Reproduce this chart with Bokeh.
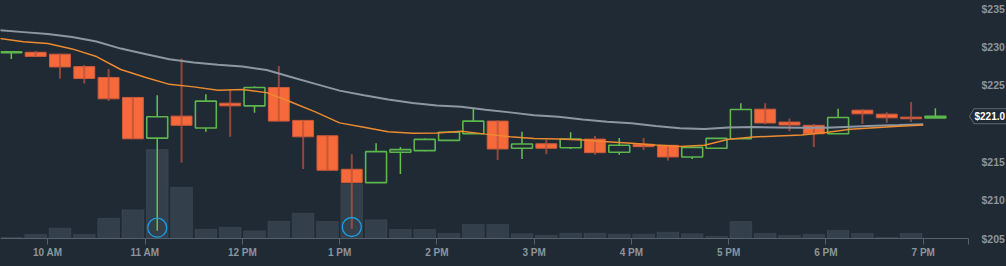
from bokeh.plotting import figure
from bokeh.models import Range1d, FixedTicker, NumeralTickFormatter, ColumnDataSource, PolyAnnotation, Label
from bokeh.embed import file_html
from bokeh.resources import INLINE

# ---------------- data ----------------
times = ["09:30", "09:45", "10:00", "10:15", "10:30", "10:45", "11:00", "11:15", "11:30", "11:45",
         "12:00", "12:15", "12:30", "12:45", "13:00", "13:15", "13:30", "13:45", "14:00", "14:15",
         "14:30", "14:45", "15:00", "15:15", "15:30", "15:45", "16:00", "16:15", "16:30", "16:45",
         "17:00", "17:15", "17:30", "17:45", "18:00", "18:15", "18:30", "18:45", "19:00"]

opens = [229.27, 229.32, 229.07, 227.45, 226.03, 223.42, 218.11, 220.98, 219.43, 222.67,
         222.32, 224.72, 220.42, 218.41, 214.04, 212.30, 216.26, 216.47, 217.81, 218.67,
         220.33, 216.78, 217.37, 216.86, 217.98, 216.26, 217.30, 217.17, 215.65, 216.78,
         218.02, 221.89, 220.20, 219.78, 218.67, 221.76, 221.24, 220.85, 220.75]
highs = [229.42, 229.47, 229.12, 227.65, 227.14, 223.44, 223.72, 228.52, 223.85, 224.46,
         224.89, 227.53, 220.42, 218.50, 216.00, 217.43, 216.95, 218.07, 219.00, 221.93,
         220.42, 218.95, 217.85, 218.87, 218.37, 218.11, 218.11, 217.20, 217.00, 218.10,
         222.67, 222.67, 220.68, 219.95, 221.93, 221.89, 221.50, 222.83, 222.02]
lows = [228.45, 228.75, 225.88, 225.24, 222.96, 218.00, 206.02, 214.91, 218.95, 218.28,
        221.41, 220.33, 214.08, 213.91, 206.27, 212.28, 213.43, 216.40, 217.80, 218.65,
        215.26, 215.39, 216.00, 216.69, 215.95, 215.95, 216.56, 215.17, 215.39, 216.70,
        218.00, 219.91, 219.00, 216.95, 218.65, 219.95, 220.11, 220.20, 220.75]
closes = [229.37, 228.78, 227.40, 225.89, 223.24, 218.02, 220.89, 219.78, 222.94, 222.32,
          224.72, 220.33, 218.28, 213.91, 212.30, 216.34, 216.60, 217.94, 218.87, 220.33,
          216.69, 217.34, 216.78, 217.98, 216.21, 217.17, 216.99, 215.65, 216.90, 218.07,
          221.85, 220.08, 219.82, 218.67, 220.81, 221.28, 220.76, 220.64, 220.97]
volumes = [10, 40, 103, 40, 203, 287, 890, 513, 93, 113,
           77, 173, 253, 170, 547, 187, 90, 90, 50, 140,
           140, 47, 33, 53, 53, 43, 43, 63, 47, 20,
           170, 50, 30, 40, 80, 50, 10, 50, 0]
ma_slow = [232.21, 231.95, 231.69, 231.30, 230.72, 229.80, 229.10, 228.40, 227.97, 227.68,
           227.46, 227.00, 226.10, 225.19, 224.31, 223.72, 223.14, 222.68, 222.38, 222.21,
           221.81, 221.47, 221.11, 220.89, 220.54, 220.26, 220.04, 219.70, 219.39, 219.29,
           219.51, 219.55, 219.51, 219.46, 219.46, 219.60, 219.72, 219.81, 219.91]
ma_fast = [231.12, 230.69, 230.46, 229.76, 228.76, 227.07, 226.06, 225.13, 224.80, 224.37,
           224.45, 224.05, 222.83, 221.53, 220.10, 219.52, 218.94, 218.76, 218.79, 219.00,
           218.63, 218.29, 218.07, 217.98, 217.85, 217.65, 217.43, 217.21, 217.00, 217.18,
           217.95, 218.24, 218.39, 218.52, 218.83, 219.26, 219.47, 219.65, 219.82]
marked_candles = [6, 14]
marked_levels = [206.41, 206.50]

hour_ticks = [10, 11, 12, 13, 14, 15, 16, 17, 18, 19]
hour_labels = ["10 AM", "11 AM", "12 PM", "1 PM", "2 PM", "3 PM", "4 PM", "5 PM", "6 PM", "7 PM"]
price_ticks = [205, 210, 215, 225, 230, 235]   # $220 is covered by the last-price tag

# ---------------- styling ----------------
BG = "#1f2a35"
UP = "#5cb64c"
UP_WICK = "#66c24f"
DOWN = "#f5693b"
DOWN_EDGE = "#cf5a3b"
DOWN_WICK = "#b5533d"
AXIS = "#56616b"
LABEL = "#8c949c"
FONT = "Liberation Sans"

W, H = 1006, 266
PLOT_W, PLOT_H = 968, 238        # chart area; axes sit at its right and bottom edges
X0 = 9.5137
px_x = (19.4654 - X0) / PLOT_W   # hours per pixel
X_AXIS_END = X0 + PLOT_W * px_x
X1 = X0 + W * px_x
P_BASE, P_TOP = 205.0, 236.08
px_y = (P_TOP - P_BASE) / PLOT_H
Y0 = P_BASE - (H - PLOT_H) * px_y
VOL_TOP = 2380
px_v = VOL_TOP / PLOT_H

start_h = [int(t[:2]) + int(t[3:]) / 60 for t in times]
step = 0.25
centers = [h + step / 2 for h in start_h]

up = [i for i in range(len(times)) if closes[i] >= opens[i]]
dn = [i for i in range(len(times)) if closes[i] < opens[i]]

def sub(idx):
    return ColumnDataSource(dict(
        x=[centers[i] for i in idx],
        top=[max(opens[i], closes[i]) for i in idx],
        bottom=[min(opens[i], closes[i]) for i in idx],
        high=[highs[i] for i in idx],
        low=[lows[i] for i in idx],
    ))

src_up = sub(up)
src_dn = sub(dn)

p = figure(width=W, height=H, x_range=Range1d(X0, X1), y_range=Range1d(Y0, P_TOP),
           output_backend="svg", toolbar_location=None, y_axis_location="right",
           min_border_left=0, min_border_right=0, min_border_top=0, min_border_bottom=0,
           background_fill_color=BG, border_fill_color=BG, outline_line_color=None)
p.styles = {"background-color": BG}
p.grid.visible = False
p.extra_y_ranges = {"vol": Range1d(-(H - PLOT_H) * px_v, VOL_TOP)}

# volume
p.vbar(x=centers, width=step * 0.9, top=volumes, bottom=0, y_range_name="vol",
       fill_color="#7d8b97", fill_alpha=0.22, line_color="#8a98a4", line_alpha=0.12, line_width=1)

# up candles: wick then hollow body
p.segment(x0="x", y0="low", x1="x", y1="high", source=src_up, line_color=UP_WICK, line_width=1.5)
p.vbar(x="x", width=step * 0.86, top="top", bottom="bottom", source=src_up,
       fill_color=BG, line_color=UP, line_width=1.6)

# down candles: filled body then wick
p.vbar(x="x", width=step * 0.86, top="top", bottom="bottom", source=src_dn,
       fill_color=DOWN, line_color=DOWN_EDGE, line_width=1)
p.segment(x0="x", y0="low", x1="x", y1="high", source=src_dn, line_color=DOWN_WICK,
          line_alpha=0.75, line_width=2)

# moving averages
p.line(start_h, ma_slow, line_color="#8d97a3", line_width=2)
p.line(start_h, ma_fast, line_color="#ee8a2e", line_width=1.5)

# marked lows
p.scatter([centers[i] for i in marked_candles], marked_levels, marker="circle", size=19,
          fill_color=None, line_color="#1c9de3", line_width=1.3)

# axes
xa = p.xaxis[0]
xa.fixed_location = P_BASE
xa.bounds = (X0, X_AXIS_END)
xa.ticker = FixedTicker(ticks=hour_ticks, minor_ticks=[X_AXIS_END - px_x * 0.5])
xa.major_label_overrides = {t: l for t, l in zip(hour_ticks, hour_labels)}
xa.axis_line_color = AXIS
xa.major_tick_line_color = AXIS
xa.minor_tick_line_color = AXIS
xa.major_tick_in = 0
xa.major_tick_out = 6
xa.minor_tick_in = 0
xa.minor_tick_out = 6
xa.major_label_standoff = 2
xa.major_label_text_color = LABEL
xa.major_label_text_font = FONT
xa.major_label_text_font_style = "bold"
xa.major_label_text_font_size = "10px"

ya = p.yaxis[0]
ya.fixed_location = X_AXIS_END
ya.ticker = FixedTicker(ticks=price_ticks)
ya.formatter = NumeralTickFormatter(format="$0")
ya.axis_line_color = None
ya.major_tick_line_color = None
ya.minor_tick_line_color = None
ya.major_label_standoff = 7
ya.major_label_text_color = LABEL
ya.major_label_text_font = FONT
ya.major_label_text_font_style = "bold"
ya.major_label_text_font_size = "10.5px"

# last price tag
last = closes[-1]
tip = X_AXIS_END + px_x * 1
corner = X_AXIS_END + px_x * 5.5
far = X1 + px_x * 10
half = px_y * 7.5
p.add_layout(PolyAnnotation(xs=[tip, corner, far, far, corner],
                            ys=[last, last + half, last + half, last - half, last - half],
                            fill_color=BG, fill_alpha=1, line_color="white", line_width=1))
p.add_layout(Label(x=X_AXIS_END + px_x * 6, y=last, text=f"${last:.1f}", text_color="white",
                   text_font=FONT, text_font_style="bold", text_font_size="10px",
                   text_baseline="middle", text_align="left"))

open("out.html", "w").write(file_html(p, INLINE))
